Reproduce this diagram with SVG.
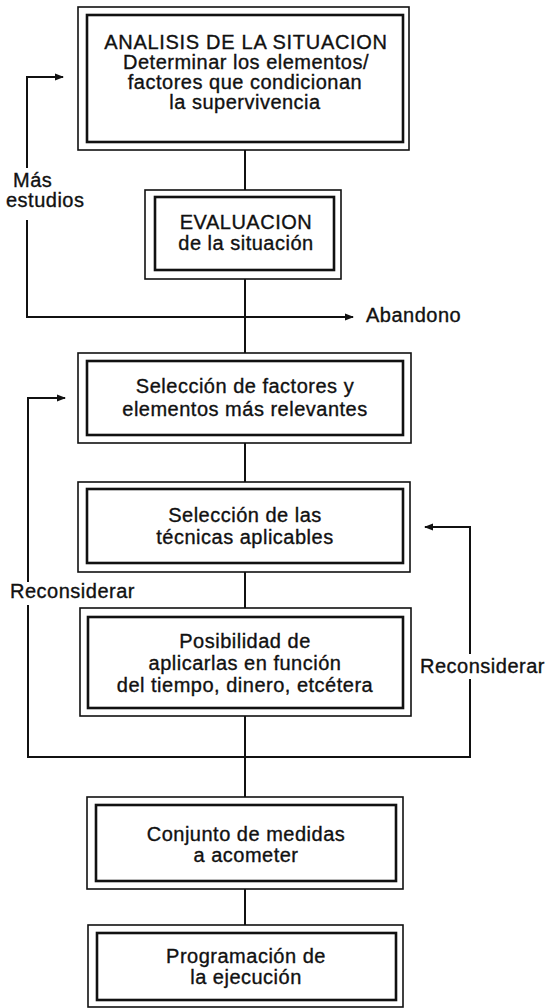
<svg xmlns="http://www.w3.org/2000/svg" width="555" height="1008" viewBox="0 0 555 1008">
<defs>
<marker id="arr" markerWidth="9" markerHeight="8" refX="8" refY="4" orient="auto" markerUnits="userSpaceOnUse">
<path d="M0,0.6 L9,4 L0,7.4 Z" fill="#111"/>
</marker>
<style>
.o{fill:none;stroke:#111;stroke-width:1.6}
.i{fill:none;stroke:#111;stroke-width:2.6}
.c{fill:none;stroke:#111;stroke-width:2}
text{font-family:"Liberation Sans",Arial,sans-serif;font-size:20px;fill:#111;stroke:#111;stroke-width:0.35;letter-spacing:0.5px}
.m{text-anchor:middle}
</style>
</defs>
<rect width="555" height="1008" fill="#fff"/>
<g id="connectors">
<path class="c" d="M245,150 V190"/>
<path class="c" d="M245,279 V353"/>
<path class="c" d="M245,443 V482"/>
<path class="c" d="M245,572 V608"/>
<path class="c" d="M245,716 V797"/>
<path class="c" d="M245,889 V925"/>
<path class="c" d="M27,168 V77 H63" marker-end="url(#arr)"/>
<path class="c" d="M27,220 V317 H353" marker-end="url(#arr)"/>
<path class="c" d="M28,582 V398 H65" marker-end="url(#arr)"/>
<path class="c" d="M28,605 V757 H470 V679"/>
<path class="c" d="M470,654 V527 H425" marker-end="url(#arr)"/>
</g>
<g id="labels">
<text x="13" y="187">Más</text>
<text x="6" y="207">estudios</text>
<text x="366" y="322">Abandono</text>
<text x="10" y="598">Reconsiderar</text>
<text x="420" y="673">Reconsiderar</text>
</g>
<g id="n1">
<rect class="o" x="78" y="7" width="331" height="143"/>
<rect class="i" x="87" y="15" width="316" height="127"/>
<text class="m" x="246" y="49" style="letter-spacing:0.7px">ANALISIS DE LA SITUACION</text>
<text class="m" x="246" y="69">Determinar los elementos/</text>
<text class="m" x="245" y="89">factores que condicionan</text>
<text class="m" x="245" y="109">la supervivencia</text>
</g>
<g id="n2">
<rect class="o" x="145" y="190" width="196" height="89"/>
<rect class="i" x="155" y="197" width="179" height="73"/>
<text class="m" x="246" y="229">EVALUACION</text>
<text class="m" x="246" y="250">de la situación</text>
</g>
<g id="n3">
<rect class="o" x="78" y="353" width="333" height="90"/>
<rect class="i" x="87" y="361" width="316" height="74"/>
<text class="m" x="245" y="393">Selección de factores y</text>
<text class="m" x="245" y="416">elementos más relevantes</text>
</g>
<g id="n4">
<rect class="o" x="78" y="482" width="332" height="90"/>
<rect class="i" x="87" y="489" width="316" height="74"/>
<text class="m" x="245" y="522">Selección de las</text>
<text class="m" x="245" y="544">técnicas aplicables</text>
</g>
<g id="n5">
<rect class="o" x="80" y="608" width="331" height="108"/>
<rect class="i" x="88" y="617" width="315" height="91"/>
<text class="m" x="245" y="648">Posibilidad de</text>
<text class="m" x="245" y="670">aplicarlas en función</text>
<text class="m" x="245" y="692">del tiempo, dinero, etcétera</text>
</g>
<g id="n6">
<rect class="o" x="87" y="797" width="316" height="92"/>
<rect class="i" x="96" y="805" width="300" height="76"/>
<text class="m" x="246" y="841">Conjunto de medidas</text>
<text class="m" x="246" y="862">a acometer</text>
</g>
<g id="n7">
<rect class="o" x="88" y="925" width="315" height="82"/>
<rect class="i" x="97" y="933" width="299" height="67"/>
<text class="m" x="246" y="963">Programación de</text>
<text class="m" x="246" y="984">la ejecución</text>
</g>
</svg>
